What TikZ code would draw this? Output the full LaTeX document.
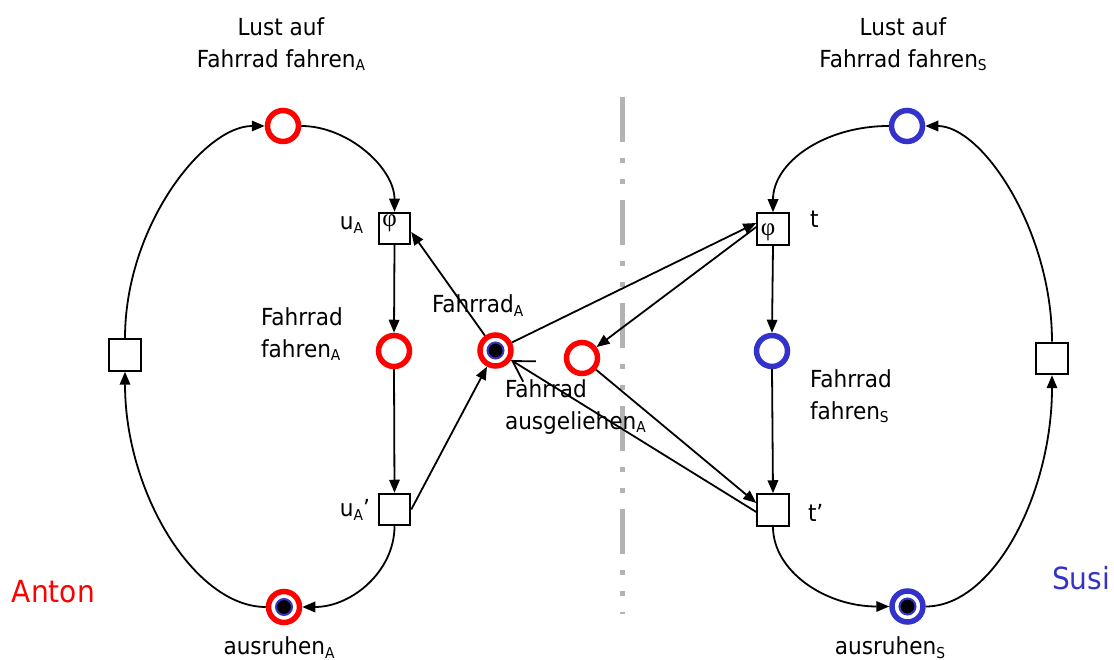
\documentclass[tikz,border=0pt]{standalone}
\usepackage{fontspec}
\setmainfont{DejaVu Sans}[FakeStretch=0.92]
\newfontfamily\greekserif{Liberation Serif}
\usetikzlibrary{arrows.meta,calc}
\definecolor{pnred}{RGB}{255,0,0}
\definecolor{pnblue}{RGB}{51,51,204}
\definecolor{sepgray}{RGB}{179,179,179}
\newcommand\lowidx[1]{\raisebox{-3.5pt}{\fontsize{15}{15}\selectfont #1}}

\begin{document}
\begin{tikzpicture}[x=1pt,y=1pt,
  every node/.style={inner sep=0pt, outer sep=0pt},
  txt/.style={font=\fontsize{23.5}{32}\selectfont},
  who/.style={font=\fontsize{30.5}{36}\selectfont},
  place/.style={circle, draw=#1, line width=5.5pt, minimum size=31pt, fill=white, outer sep=2.75pt},
  trans/.style={rectangle, draw=black, line width=2pt, minimum size=31.5pt, fill=white, outer sep=1pt},
  arc/.style={line width=1.8pt, -{Triangle[length=13pt,width=10.5pt]}},
  openarc/.style={line width=1.8pt, -{Straight Barb[length=20pt,width=24pt,line width=1.8pt]}},
  tokfill/.style={fill=black, draw=pnblue, line width=2pt},
  phi/.style={font=\fontsize{25}{25}\greekserif}
]
\useasboundingbox (0,0) rectangle (1114,660);

% separator between the two partners
\draw[sepgray, line width=5pt,
  dash pattern=on 45pt off 16pt on 5pt off 16pt on 5pt off 16pt]
  (622,563) -- (622,46);

% ---- Anton ----
\node[place=pnred] (LA)  at (283,534) {};
\node[trans] (uA)  at (394.5,431.5) {};
\node[place=pnred] (FfA) at (394,309) {};
\node[place=pnred] (FA)  at (495.5,309.5) {};
\node[trans] (uA2) at (394.5,150.5) {};
\node[place=pnred] (ruA) at (284,53) {};
\node[trans] (tlA) at (125,305) {};
\node[place=pnred] (FaA) at (582,302) {};

% ---- Susi ----
\node[trans] (t)   at (773,431) {};
\node[place=pnblue] (FfS) at (772,309) {};
\node[trans] (t2)  at (773,150) {};
\node[place=pnblue] (ruS) at (907.5,53.5) {};
\node[place=pnblue] (LS)  at (907,534) {};
\node[trans] (trS) at (1052,301.5) {};

% tokens
\filldraw[tokfill] (FA.center)  circle[radius=8pt];
\filldraw[tokfill] (ruA.center) circle[radius=8pt];
\filldraw[tokfill] (ruS.center) circle[radius=8pt];

% guards in the transitions
\node[phi] (phiA) at ($(uA.center)+(-5,5)$) {φ};
\node[phi] (phiS) at ($(t.center)+(-5,-3)$) {φ};

% ---- labels ----
\node[txt, align=center] (lLA) at (281,616) {Lust auf\\Fahrrad fahren\lowidx{A}};
\node[txt, align=center] (lLS) at (903,616) {Lust auf\\Fahrrad fahren\lowidx{S}};
\node[txt, anchor=base east] (luA) at (363,430) {u\lowidx{A}};
\node[txt, anchor=base east] (luA2) at (370,143) {u\lowidx{A}’};
\node[txt, anchor=base west] (lt) at (810,432) {t};
\node[txt, anchor=base west] (lt2) at (808,138) {t’};
\node[txt, align=left, anchor=west] (lFfA) at (261,326) {Fahrrad\\fahren\lowidx{A}};
\node[txt, anchor=base west] (lFA) at (432,347) {Fahrrad\lowidx{A}};
\node[txt, align=left, anchor=west] (lFaA) at (505,253) {Fahrrad\\ausgeliehen\lowidx{A}};
\node[txt, align=left, anchor=west] (lFfS) at (810,264) {Fahrrad\\fahren\lowidx{S}};
\node[txt, anchor=base] (lruA) at (279,5) {ausruhen\lowidx{A}};
\node[txt, anchor=base] (lruS) at (890,5) {ausruhen\lowidx{S}};
\node[who, text=pnred, anchor=base west] (anton) at (12,57) {Anton};
\node[who, text=pnblue, anchor=base west] (susi) at (1052,70) {Susi};

% ---- Anton's cycle ----
\draw[arc] (LA.east) .. controls (348,534) and (394.5,492) .. (uA.north);
\draw[arc] (uA.south) -- (FfA.north);
\draw[arc] (FfA.south) -- (uA2.north);
\draw[arc] (uA2.south) .. controls (394.5,89) and (352,53) .. (ruA.east);
\draw[arc] (ruA.west) .. controls (195,53) and (125,167) .. (tlA.south);
\draw[arc] (tlA.north) .. controls (125,434) and (204,534) .. (LA.west);

% ---- Susi's cycle ----
\draw[arc] (LS.west) .. controls (825,534) and (773,498) .. (t.north);
\draw[arc] (t.south) -- (FfS.north);
\draw[arc] (FfS.south) -- (t2.north);
\draw[arc] (t2.south) .. controls (773,89) and (825,53.5) .. (ruS.west);
\draw[arc] (ruS.east) .. controls (994,53.5) and (1052,167) .. (trS.south);
\draw[arc] (trS.north) .. controls (1052,430) and (982,534) .. (LS.east);

% ---- the bicycle ----
\draw[arc] (FA) -- ([yshift=-3.5pt]uA.east);
\draw[arc] (uA2.east) -- (FA);
\draw[arc] (FA) -- ([yshift=6pt]t.west);
\draw[arc] ([yshift=2pt]t.west) -- (FaA);
\draw[arc] (FaA) -- ([yshift=7pt]t2.west);
\draw[openarc] ([yshift=-2pt]t2.west) -- (FA);
\end{tikzpicture}
\end{document}
